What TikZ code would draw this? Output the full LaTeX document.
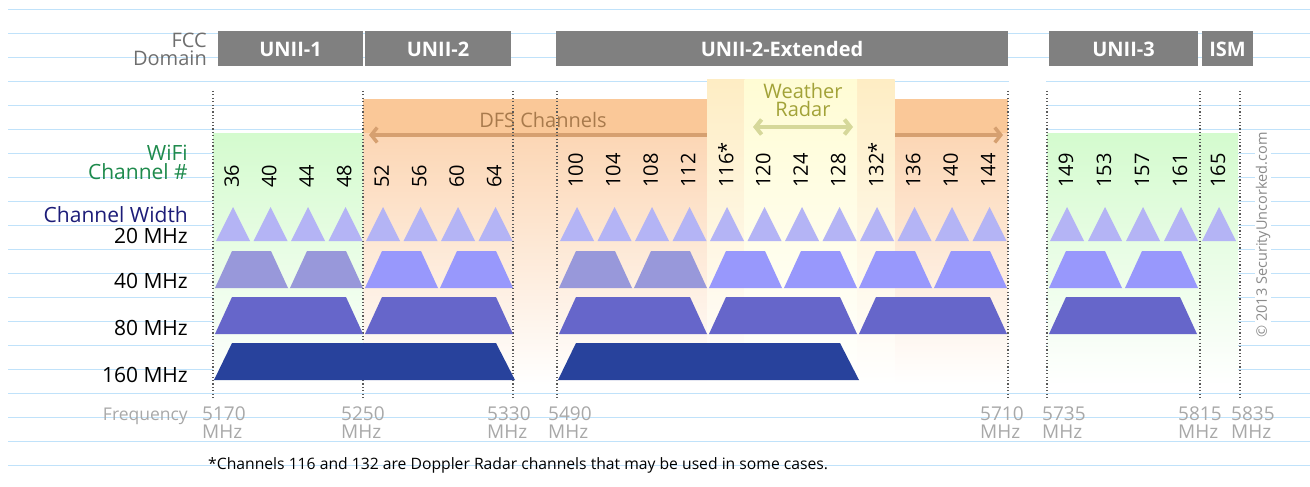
\documentclass[tikz,border=0pt]{standalone}
\usepackage{fontspec}
\setmainfont{Open Sans}
\usetikzlibrary{arrows.meta}

\definecolor{gridblue}{RGB}{192,226,250}
\definecolor{bandgray}{RGB}{128,128,128}
\definecolor{fccgray}{RGB}{110,110,110}
\definecolor{dfsorange}{RGB}{250,200,152}
\definecolor{dfsfade}{RGB}{252,214,180}
\definecolor{dfsarrow}{RGB}{214,160,112}
\definecolor{dfstext}{RGB}{168,122,76}
\definecolor{wxouter}{RGB}{254,237,196}
\definecolor{wxinner}{RGB}{255,252,212}
\definecolor{wxarrow}{RGB}{214,216,154}
\definecolor{wxtext}{RGB}{162,162,56}
\definecolor{wifigreen}{RGB}{212,251,206}
\definecolor{chgreen}{RGB}{30,138,76}
\definecolor{widthnavy}{RGB}{28,28,120}
\definecolor{twenty}{RGB}{180,180,245}
\definecolor{fortydim}{RGB}{152,152,218}
\definecolor{forty}{RGB}{152,152,252}
\definecolor{eighty}{RGB}{102,102,202}
\definecolor{onesixty}{RGB}{40,66,156}
\definecolor{freqgray}{RGB}{168,168,168}
\definecolor{copygray}{RGB}{138,138,138}

\tikzset{
  bandlbl/.style={text=white, inner sep=0, font=\bfseries\fontsize{20}{24}\selectfont},
  sidelbl/.style={inner sep=0, font=\fontsize{21}{19}\selectfont},
  chnum/.style={rotate=90, anchor=west, inner sep=0, font=\fontsize{20}{24}\selectfont},
  freqlbl/.style={anchor=north west, align=left, inner sep=0, text=freqgray,
    font=\fontsize{19}{18}\selectfont},
  freqtick/.style={draw=black!65, line width=1.1pt, dash pattern=on 1.1pt off 2.3pt},
  barb/.style={line width=4pt, {Straight Barb[length=6pt,width=15pt]}-{Straight Barb[length=6pt,width=15pt]}}
}

\begin{document}
\begin{tikzpicture}[x=1pt,y=-1pt]
    \useasboundingbox (0,0) rectangle (1310,487);
    % ruled paper
    \foreach \k in {0,...,19}
        \draw[gridblue, line width=1.1pt] (8,9.5+24*\k) -- (1310,9.5+24*\k);

    % FCC domains
    \foreach \a/\b/\name/\txt in {218/363/unii1/UNII-1, 365/511/unii2/UNII-2,
            556/1008/unii2e/UNII-2-Extended, 1049/1198/unii3/UNII-3, 1202/1253/ism/ISM} {
        \fill[bandgray] (\a,31) rectangle (\b,66);
        \node[bandlbl, anchor=base] (\name) at ({(\a+\b)/2},57) {\txt};
    }

    % backgrounds: DFS, WiFi, weather radar
    \fill[dfsorange] (363,99) rectangle (1008,133);
    \shade[top color=dfsfade, bottom color=white] (363,133) rectangle (1008,385);
    \shade[top color=wifigreen, bottom color=white] (213,133) rectangle (363,385);
    \shade[top color=wifigreen, bottom color=white] (1047,133) rectangle (1238,385);
    \fill[white] (1009,70) rectangle (1046,385);

    \coordinate (dfsL) at (369,135);
    \coordinate (dfsR) at (1003,135);
    \draw[barb, dfsarrow, line width=3.5pt] (dfsL) -- (dfsR);
    \node[text=dfstext, anchor=base, inner sep=0, font=\fontsize{20}{24}\selectfont]
        (dfs) at (543,128) {DFS Channels};

    \shade[top color=wxouter, bottom color=white] (707,80) rectangle (894.5,385);
    \shade[top color=wxinner, bottom color=white] (744.5,80) rectangle (857,385);
    \coordinate (wxL) at (753,127);
    \coordinate (wxR) at (853,127);
    \draw[barb, wxarrow] (wxL) -- (wxR);
    \node[text=wxtext, anchor=north, align=center, inner sep=0, font=\fontsize{20}{18}\selectfont]
        (wx) at (803,83.5) {Weather\\Radar};

    % band edges
    \foreach \x in {213,363,513,557,1008,1047,1200,1240}
        \draw[freqtick] (\x,91) -- (\x,400);

    % channel numbers
    \foreach \c [count=\i from 0] in {36,40,...,64}
        \node[chnum] (ch\c) at (213+37.5*\i+18.75,188) {\c};
    \foreach \c [count=\i from 0] in {100,104,108,112,116*,120,124,128,132*,136,140,144}
        \node[chnum] (chx\i) at (557+37.5*\i+18.75,188) {\c};
    \foreach \c [count=\i from 0] in {149,153,157,161,165}
        \node[chnum] (ch\c) at (1047+38*\i+19,188) {\c};

    % 20 MHz
    \foreach \x in {213,250.5,...,476,557,594.5,...,970}
        \fill[twenty] (\x+3,241) -- (\x+20,207) -- (\x+37,241) -- cycle;
    \foreach \x in {1047,1085,...,1199}
        \fill[twenty] (\x+3,241) -- (\x+20,207) -- (\x+37,241) -- cycle;
    % 40 MHz
    \foreach \x/\c in {213/fortydim,288/fortydim,363/forty,438/forty,557/fortydim,632/fortydim,
            707/forty,782/forty,857/forty,932/forty,1047/forty,1123/forty}
        \fill[\c] (\x+2,288) -- (\x+19,251) -- (\x+58,251) -- (\x+75,288) -- cycle;
    % 80 MHz
    \foreach \x in {213,363,557,707,857,1047}
        \fill[eighty] (\x+2,334) -- (\x+19,297) -- (\x+133,297) -- (\x+150,334) -- cycle;
    % 160 MHz
    \foreach \x in {213,557}
        \fill[onesixty] (\x+1,380) -- (\x+19,343) -- (\x+283,343) -- (\x+302,380) -- cycle;

    % row labels
    \node[sidelbl, text=fccgray, anchor=north east, align=right, font=\fontsize{20}{18}\selectfont]
        (fcc) at (207,32.5) {FCC\\Domain};
    \node[sidelbl, text=chgreen, anchor=north east, align=right] (wifi) at (188,145) {WiFi\\Channel \#};
    \node[sidelbl, text=widthnavy, anchor=base east] (width) at (188,222) {Channel Width};
    \node[sidelbl, anchor=base east] (w20) at (188,243) {20 MHz};
    \node[sidelbl, anchor=base east] (w40) at (188,288) {40 MHz};
    \node[sidelbl, anchor=base east] (w80) at (188,335) {80 MHz};
    \node[sidelbl, anchor=base east] (w160) at (188,382) {160 MHz};
    \node[anchor=base east, inner sep=0, text=freqgray, font=\fontsize{17.5}{20}\selectfont]
        (freq) at (188,420) {Frequency};

    % frequencies
    \foreach \x/\f in {202/5170,341/5250,487/5330,548/5490,980/5710,1042/5735,1178/5815,1231/5835}
        \node[freqlbl] (f\f) at (\x,407) {\f\\MHz};

    \node[rotate=90, fill=white, inner sep=1pt, text=copygray, font=\fontsize{14.5}{16}\selectfont]
        (copy) at (1263,235) {© 2013 SecurityUncorked.com};
    \node[anchor=base west, inner sep=0, font=\fontsize{15.7}{18}\selectfont]
        (note) at (208,469) {*Channels 116 and 132 are Doppler Radar channels that may be used in some cases.};
\end{tikzpicture}
\end{document}
